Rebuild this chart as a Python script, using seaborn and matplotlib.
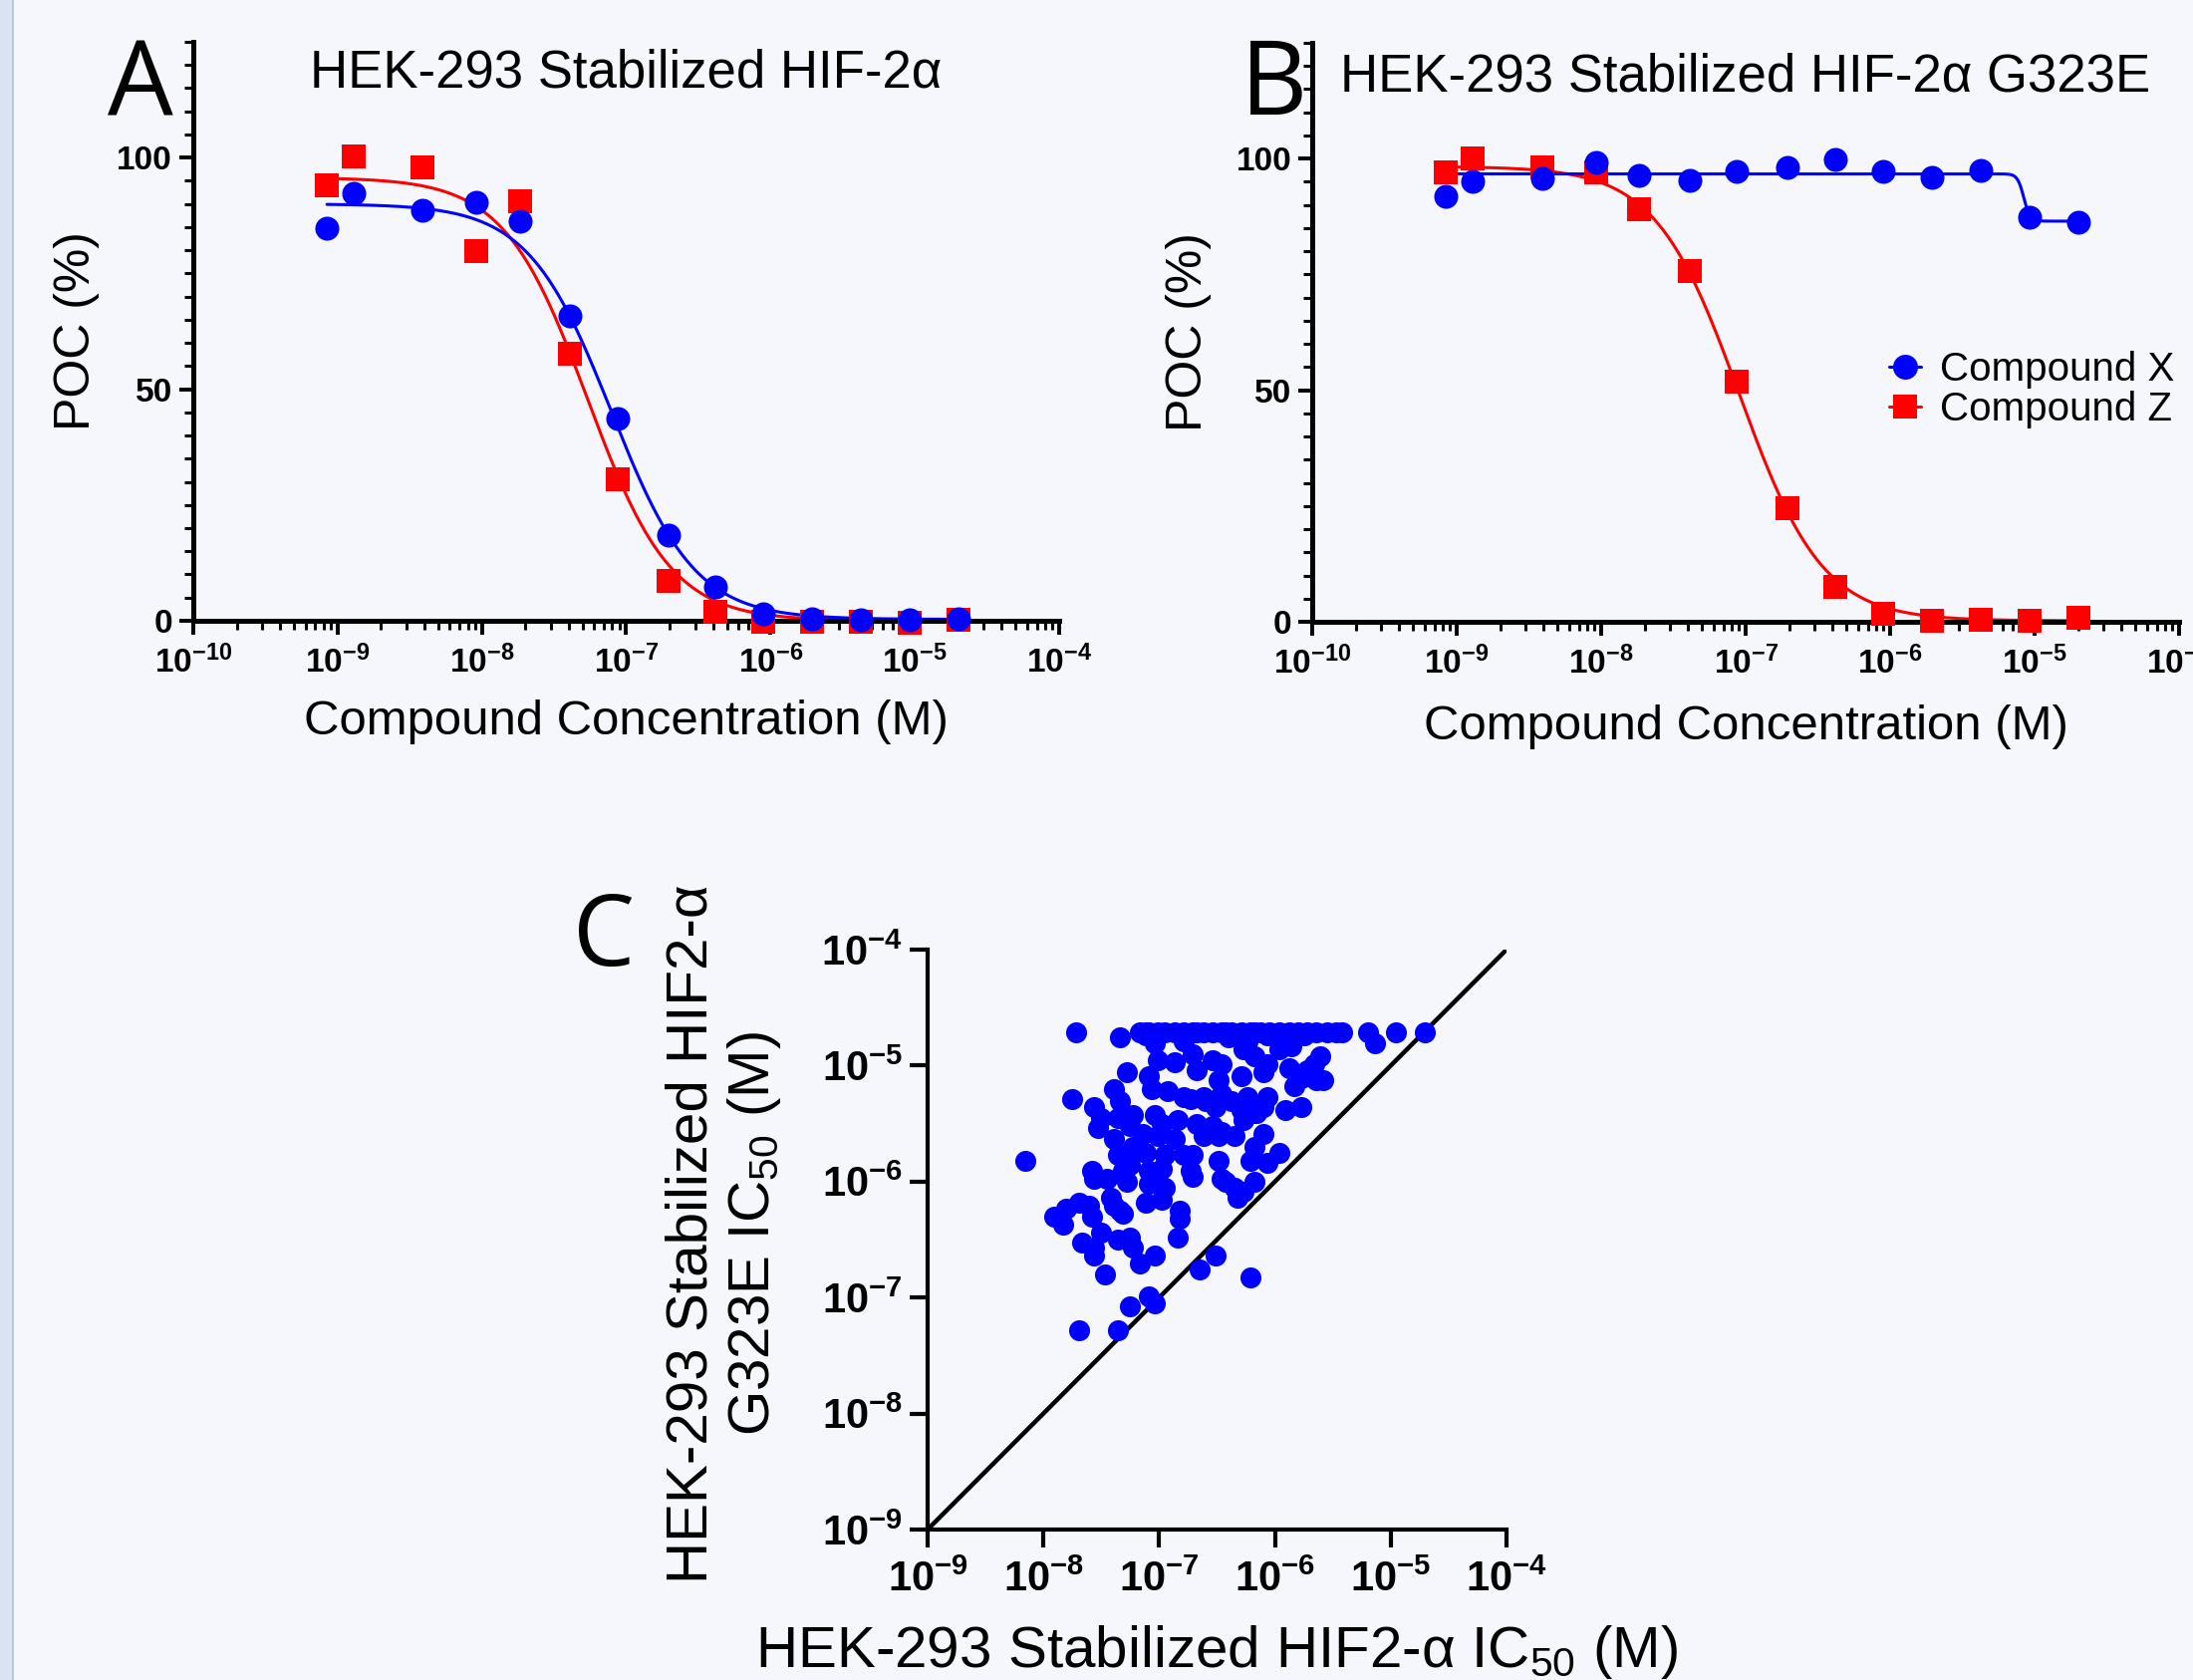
import matplotlib.pyplot as plt
import matplotlib.ticker as mticker
from matplotlib.lines import Line2D
from matplotlib.patches import Rectangle
import numpy as np
import seaborn as sns

sns.set_style('ticks')
plt.rcParams['font.family'] = ['Liberation Sans', 'Noto Sans CJK SC']
plt.rcParams['mathtext.fontset'] = 'custom'
plt.rcParams['mathtext.rm'] = 'Liberation Sans'
plt.rcParams['mathtext.bf'] = 'Liberation Sans:bold'
plt.rcParams['mathtext.it'] = 'Liberation Sans:italic'
for key in ['text.color', 'axes.labelcolor', 'xtick.color', 'ytick.color', 'axes.edgecolor']:
    plt.rcParams[key] = 'black'

BG = '#f5f7fc'
BLUE = '#0000ff'
RED = '#ff0000'

# Dose-response data (panels A and B), concentration in M, response in POC %
conc = [8.45e-10, 1.29e-9, 3.9e-9, 9.2e-9, 1.83e-8, 4.09e-8, 8.7e-8,
        1.95e-7, 4.16e-7, 8.87e-7, 1.93e-6, 4.22e-6, 9.2e-6, 2.0e-5]
a_cmpd_x = [84.7, 92.4, 88.7, 90.4, 86.3, 65.9, 43.6, 18.4, 7.3, 1.6, 0.5, 0.2, 0.2, 0.5]
a_cmpd_z = [94.1, 100.2, 97.9, 79.8, 90.6, 57.7, 30.5, 8.6, 1.9, -0.2, -0.2, -0.3, -0.4, 0.2]
b_cmpd_x = [91.9, 95.1, 95.7, 99.1, 96.3, 95.3, 97.2, 98.2, 99.9, 97.2, 96.0, 97.4, 87.4, 86.3]
b_cmpd_z = [97.0, 100.1, 98.0, 97.1, 89.1, 75.8, 51.9, 24.6, 7.5, 1.8, 0.3, 0.5, 0.2, 0.8]

# four-parameter logistic fits: top, bottom, IC50, hill
fit_a_x = (90.0, 0.3, 7.9e-8, 1.5)
fit_a_z = (95.7, 0.0, 5.4e-8, 1.5)
fit_b_x = (96.7, 86.5, 8.4e-6, 20.0)
fit_b_z = (98.3, 0.2, 9.0e-8, 1.5)

dose_ticks = [1e-10, 1e-9, 1e-8, 1e-7, 1e-6, 1e-5, 1e-4]
dose_tick_labels = [r'$\mathbf{10^{-10}}$', r'$\mathbf{10^{-9}}$', r'$\mathbf{10^{-8}}$',
                    r'$\mathbf{10^{-7}}$', r'$\mathbf{10^{-6}}$', r'$\mathbf{10^{-5}}$',
                    r'$\mathbf{10^{-4}}$']

# Panel C: log10 IC50 (M) wild type vs G323E
c_wt_log = [-7.72, -7.17, -7.01, -6.87, -6.79, -6.71, -6.62, -6.54, -6.46, -6.38, -6.29,
            -6.21, -6.13, -6.05, -5.96, -5.88, -5.80, -5.72, -5.64, -5.55, -5.47, -5.42,
            -5.20, -4.96, -4.71, -7.12, -6.68, -6.43, -6.18, -7.09, -6.95,
            -7.34, -5.14, -7.04, -6.40, -6.24, -6.07, -5.91, -5.75, -6.79, -7.12,
            -7.01, -6.87, -6.71, -6.54, -6.46, -6.27, -6.18, -6.07, -5.96, -5.86, -5.88,
            -5.61, -5.66, -6.68, -6.49, -6.29, -6.10, -5.72, -7.09, -7.28, -7.06, -6.93,
            -6.79, -6.62, -6.46, -6.38, -6.24, -6.07, -5.77, -5.83, -5.64, -5.58, -5.91,
            -5.77, -6.10, -6.18, -6.29, -6.51, -6.60, -6.73, -7.39, -7.34, -7.75, -7.56,
            -7.50, -7.36, -7.23, -7.04, -6.98, -6.84, -6.68, -6.54, -6.46, -6.35, -6.27,
            -6.16, -7.53, -7.25, -7.14, -7.01, -6.87, -6.62, -6.49, -7.39, -7.23, -7.36,
            -7.12, -6.95, -6.79, -6.71, -6.18, -6.10, -5.96, -6.07, -6.21, -6.49, -7.25,
            -7.31, -7.09, -6.98, -7.01, -6.73, -6.71, -7.58, -7.56, -7.45, -7.28, -7.09,
            -6.95, -6.43, -6.35, -6.27, -6.18, -6.32, -6.46, -7.42, -7.39, -7.34, -7.12,
            -6.98, -7.69, -7.61, -7.80, -7.91, -7.83, -7.58, -7.31, -6.82, -6.82, -7.50,
            -7.67, -7.36, -7.25, -7.56, -7.56, -7.47, -7.23, -7.17, -7.04, -6.84, -6.65,
            -6.51, -6.21, -7.09, -7.04, -7.25, -7.69, -7.36, -8.16]
c_mut_log = [-4.71, -4.71, -4.71, -4.71, -4.71, -4.71, -4.71, -4.71, -4.71, -4.71, -4.71,
             -4.71, -4.71, -4.71, -4.71, -4.71, -4.71, -4.71, -4.71, -4.71, -4.71, -4.71,
             -4.71, -4.71, -4.71, -4.71, -4.71, -4.71, -4.71, -4.71, -4.71,
             -4.76, -4.81, -4.81, -4.76, -4.79, -4.74, -4.76, -4.74, -4.79, -4.74,
             -4.95, -4.97, -4.90, -4.95, -4.99, -4.86, -4.92, -4.99, -4.86, -4.83, -5.02,
             -4.92, -4.99, -5.04, -5.13, -5.09, -5.06, -5.04, -5.09, -5.06, -5.20, -5.22,
             -5.27, -5.27, -5.25, -5.31, -5.27, -5.27, -5.11, -5.18, -5.13, -5.13, -5.38,
             -5.36, -5.36, -5.41, -5.38, -5.36, -5.31, -5.29, -5.20, -5.31, -5.29, -5.36,
             -5.45, -5.45, -5.43, -5.43, -5.50, -5.47, -5.50, -5.52, -5.57, -5.61, -5.47,
             -5.41, -5.54, -5.52, -5.59, -5.61, -5.63, -5.61, -5.61, -5.63, -5.70, -5.77,
             -5.75, -5.77, -5.77, -5.77, -5.70, -5.59, -5.75, -5.84, -5.82, -5.82, -5.86,
             -5.91, -5.91, -5.89, -6.00, -5.91, -5.96, -5.91, -5.98, -5.98, -6.00, -6.02,
             -6.05, -6.00, -6.05, -6.09, -6.00, -6.14, -5.98, -6.14, -6.21, -6.25, -6.18,
             -6.16, -6.18, -6.21, -6.23, -6.30, -6.37, -6.30, -6.28, -6.25, -6.32, -6.44,
             -6.53, -6.50, -6.48, -6.57, -6.64, -6.80, -6.57, -6.71, -6.64, -6.48, -6.76,
             -6.64, -6.83, -6.99, -7.05, -7.08, -7.28, -7.28, -5.82]
identity_line = [1e-9, 1e-4]
c_ticks = [1e-9, 1e-8, 1e-7, 1e-6, 1e-5, 1e-4]
c_tick_labels = [r'$\mathbf{10^{-9}}$', r'$\mathbf{10^{-8}}$', r'$\mathbf{10^{-7}}$',
                 r'$\mathbf{10^{-6}}$', r'$\mathbf{10^{-5}}$', r'$\mathbf{10^{-4}}$']


def four_pl(x, top, bottom, ic50, hill):
    return bottom + (top - bottom) / (1 + (x / ic50) ** hill)


def draw_dose_panel(ax, title, title_y, resp_x, resp_z, fit_x, fit_z):
    grid = np.logspace(np.log10(conc[0]), np.log10(conc[-1]), 400)
    sns.lineplot(x=grid, y=four_pl(grid, *fit_z), ax=ax, color=RED, lw=2.2)
    sns.lineplot(x=grid, y=four_pl(grid, *fit_x), ax=ax, color=BLUE, lw=2.2)
    sns.scatterplot(x=conc, y=resp_z, ax=ax, color=RED, marker='s', s=300,
                    linewidth=0, clip_on=False, zorder=3)
    sns.scatterplot(x=conc, y=resp_x, ax=ax, color=BLUE, marker='o', s=300,
                    linewidth=0, clip_on=False, zorder=4)
    ax.set_xscale('log')
    ax.set_xlim(1e-10, 1e-4)
    ax.set_ylim(0, 125)
    ax.set_facecolor(BG)
    sns.despine(ax=ax)
    for sp in ['left', 'bottom']:
        ax.spines[sp].set_linewidth(3.6)
    ax.set_xticks(dose_ticks)
    ax.set_xticklabels(dose_tick_labels, fontsize=24)
    ax.xaxis.set_minor_locator(mticker.LogLocator(base=10, subs=np.arange(2, 10), numticks=20))
    ax.xaxis.set_minor_formatter(mticker.NullFormatter())
    ax.set_yticks([0, 50, 100])
    ax.set_yticklabels(['0', '50', '100'], fontsize=24, fontweight='bold')
    ax.yaxis.set_minor_locator(mticker.MultipleLocator(5))
    ax.tick_params(which='major', length=10, width=2.8, pad=5)
    ax.tick_params(axis='x', which='major', pad=8)
    ax.tick_params(which='minor', length=6.5, width=2.2)
    ax.text(0.5, title_y, title, transform=ax.transAxes, ha='center', va='baseline',
            fontsize=38)
    ax.set_xlabel('Compound Concentration (M)', fontsize=35.4)
    ax.set_ylabel('POC (%)', fontsize=36)


fig = plt.figure(figsize=(22.01, 16.86), dpi=100, facecolor=BG)
fig.patches.append(Rectangle((0, 0), 12 / 2201, 1, transform=fig.transFigure,
                             facecolor='#dae3f3', edgecolor='none'))
fig.patches.append(Rectangle((12 / 2201, 0), 2 / 2201, 1, transform=fig.transFigure,
                             facecolor='#b7c8e8', edgecolor='none'))

ax_a = fig.add_axes([0.0881, 0.6305, 0.3949, 0.3446])
ax_b = fig.add_axes([0.5984, 0.6299, 0.3953, 0.3446])
ax_c = fig.add_axes([0.4230, 0.0896, 0.2640, 0.3452])

draw_dose_panel(ax_a, 'HEK-293 Stabilized HIF-2α', 0.9225, a_cmpd_x, a_cmpd_z, fit_a_x, fit_a_z)
draw_dose_panel(ax_b, 'HEK-293 Stabilized HIF-2α G323E', 0.9157, b_cmpd_x, b_cmpd_z,
                fit_b_x, fit_b_z)
ax_a.xaxis.set_label_coords(0.5, -0.136)
ax_b.xaxis.set_label_coords(0.5, -0.143)
ax_a.yaxis.set_label_coords(-0.108, 0.5)
ax_b.yaxis.set_label_coords(-0.116, 0.5)

handles = [Line2D([], [], color=BLUE, marker='o', markersize=18, lw=2.2, markeredgewidth=0),
           Line2D([], [], color=RED, marker='s', markersize=17, lw=2.2, markeredgewidth=0)]
ax_b.legend(handles, ['Compound X', 'Compound Z'], loc='center left',
            bbox_to_anchor=(0.8615, 0.768), bbox_transform=fig.transFigure,
            frameon=False, fontsize=29, handlelength=0.8, handletextpad=0.45,
            labelspacing=0.05, borderpad=0, borderaxespad=0)

# Panel C
sns.lineplot(x=identity_line, y=identity_line, ax=ax_c, color='black', lw=3.2)
sns.scatterplot(x=10 ** np.array(c_wt_log), y=10 ** np.array(c_mut_log), ax=ax_c,
                color=BLUE, s=230, linewidth=0, zorder=3)
ax_c.set_xscale('log')
ax_c.set_yscale('log')
ax_c.set_xlim(1e-9, 1e-4)
ax_c.set_ylim(1e-9, 1e-4)
ax_c.set_facecolor(BG)
sns.despine(ax=ax_c)
for sp in ['left', 'bottom']:
    ax_c.spines[sp].set_linewidth(3.0)
ax_c.set_xticks(c_ticks)
ax_c.set_xticklabels(c_tick_labels, fontsize=30)
ax_c.set_yticks(c_ticks)
ax_c.set_yticklabels(c_tick_labels, fontsize=30)
ax_c.xaxis.set_minor_locator(mticker.NullLocator())
ax_c.yaxis.set_minor_locator(mticker.NullLocator())
ax_c.tick_params(which='major', length=13, width=3.0, pad=5)
ax_c.tick_params(axis='x', which='major', pad=9)
ax_c.set_xlabel('HEK-293 Stabilized HIF2-α IC$_{50}$ (M)', fontsize=42)
ax_c.set_ylabel('HEK-293 Stabilized HIF2-α\nG323E IC$_{50}$ (M)', fontsize=42,
                multialignment='center', linespacing=1.15)
ax_c.xaxis.set_label_coords(0.5, -0.162)
ax_c.yaxis.set_label_coords(-0.25, 0.51)

# panel letters
fig.text(108 / 2201, 1 - 117 / 1686, 'A', fontsize=75, family='Open Sans', va='baseline')
fig.text(1245 / 2201, 1 - 115 / 1686, 'B', fontsize=75, family='Open Sans', va='baseline')
fig.text(575 / 2201, 1 - 969 / 1686, 'C', fontsize=71, family='Open Sans', va='baseline')

fig.savefig('out.png', dpi=100, facecolor=BG)
